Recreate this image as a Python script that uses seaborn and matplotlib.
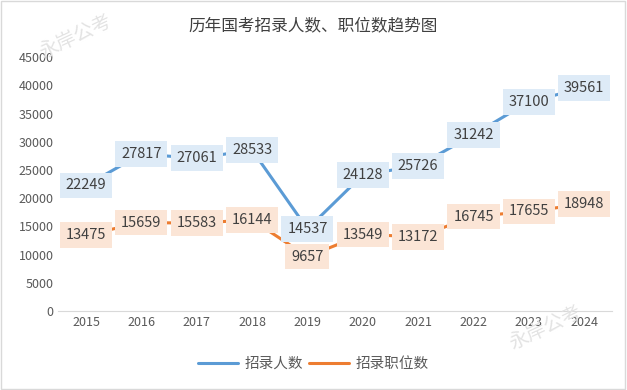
import pandas as pd
import matplotlib.pyplot as plt
import seaborn as sns

years = ['2015', '2016', '2017', '2018', '2019', '2020', '2021', '2022', '2023', '2024']
hires = [22249, 27817, 27061, 28533, 14537, 24128, 25726, 31242, 37100, 39561]
posts = [13475, 15659, 15583, 16144, 9657, 13549, 13172, 16745, 17655, 18948]
series_names = ['招录人数', '招录职位数']

sns.set_theme(style='white')
plt.rcParams['font.family'] = ['Noto Sans CJK SC', 'DejaVu Sans']

df = pd.DataFrame({
    'year': years * 2,
    'value': hires + posts,
    'series': [series_names[0]] * len(years) + [series_names[1]] * len(years),
})

colors = ['#5B9BD5', '#ED7D31']
box_colors = ['#DEEBF7', '#FBE5D6']

fig = plt.figure(figsize=(6.27, 3.9), dpi=100)
ax = fig.add_axes([0.093, 0.2026, 0.883, 0.651])

sns.lineplot(data=df, x='year', y='value', hue='series', palette=colors,
             linewidth=2.2, ax=ax, sort=False, legend=True)

# data labels centred on the points
for vals, bc in zip([hires, posts], box_colors):
    for i, v in enumerate(vals):
        ax.text(i, v, str(v), ha='center', va='center', fontsize=10.5,
                color='#404040', family=['Noto Sans CJK SC', 'DejaVu Sans'],
                bbox=dict(boxstyle='square,pad=0.4', fc=bc, ec='none'))

ax.set_ylim(0, 45000)
ax.set_yticks(range(0, 45001, 5000))
ax.set_xlim(-0.5, len(years) - 0.5)
ax.set_xlabel('')
ax.set_ylabel('')
ax.tick_params(axis='both', labelsize=9, colors='#595959', length=0)
for s in ['top', 'right', 'left']:
    ax.spines[s].set_visible(False)
ax.spines['bottom'].set_color('#D9D9D9')
ax.spines['bottom'].set_linewidth(0.8)

ax.legend(loc='upper center', bbox_to_anchor=(0.46, -0.13), ncol=2, frameon=False,
          fontsize=10.5, handlelength=2.8, columnspacing=0.4, handletextpad=0.4,
          labelcolor='#595959')

fig.suptitle('历年国考招录人数、职位数趋势图', y=0.955, fontsize=12,
             color='#404040')

# faint watermarks
fig.text(0.12, 0.905, '永岸公考', rotation=25, fontsize=14, color='#E3E3E3',
         ha='center', va='center', zorder=0)
fig.text(0.87, 0.16, '永岸公考', rotation=25, fontsize=14, color='#E3E3E3',
         ha='center', va='center', zorder=0)

# light border round the figure
fig.patches.append(plt.Rectangle((0.002, 0.003), 0.995, 0.994, transform=fig.transFigure,
                                 fill=False, ec='#D9D9D9', lw=1))

fig.savefig('out.png', dpi=100)
